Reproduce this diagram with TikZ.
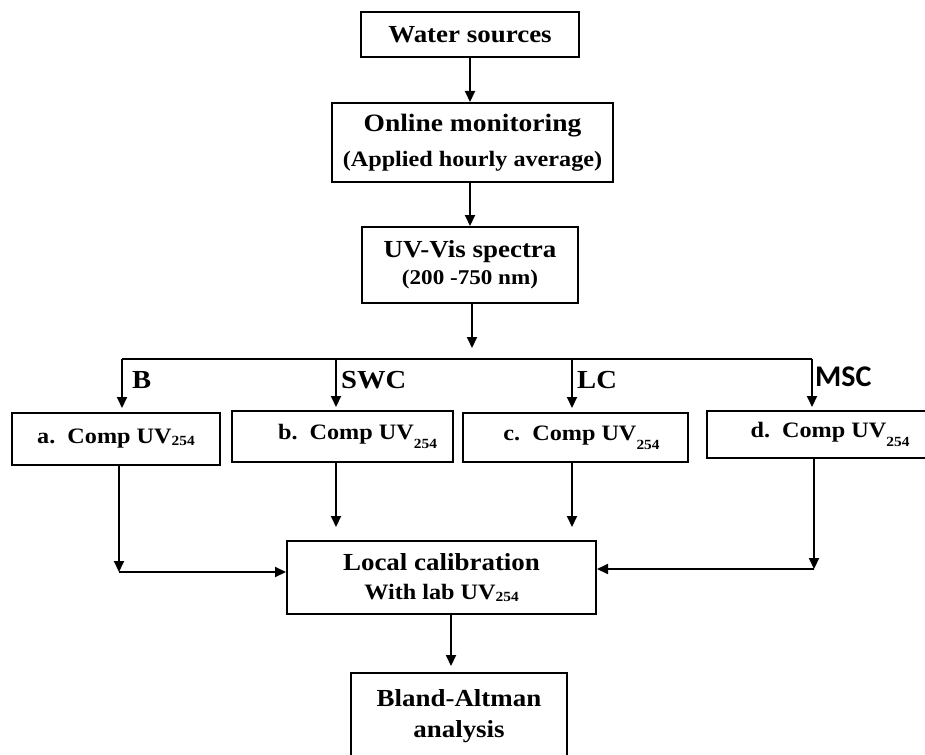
\documentclass[tikz,border=0pt]{standalone}
\usepackage{fontspec}
\setmainfont{Liberation Serif}[FakeStretch=1.1]
\newfontfamily\mscfont{Carlito}
\usetikzlibrary{arrows.meta}
\newcommand\lowsub[2]{\raisebox{-#1}{\fontsize{14}{14}\selectfont #2}}
\newcommand\fs[2]{\fontsize{#1}{#2}\selectfont}
\begin{document}
\begin{tikzpicture}[x=1pt,y=-1pt,
  box/.style={draw, line width=2pt, inner sep=0pt, align=center},
  conn/.style={line width=2pt},
  arr/.style={line width=2pt, -{Triangle[length=11pt,width=10pt]}},
  lbl/.style={anchor=base west, inner sep=0pt, font=\bfseries\fs{26}{26}}]
\useasboundingbox (0,0) rectangle (925,754);

% boxes
\node[box, font=\bfseries\fs{24.5}{28}, minimum width=218pt, minimum height=45pt] (water) at (470,34.5) {Water sources};
\node[box, font=\bfseries\fs{25}{35}, minimum width=281pt, minimum height=79pt] (online) at (472.5,142.5)
  {Online monitoring\\\fs{22}{35}(Applied hourly average)};
\node[box, font=\bfseries\fs{24.5}{27}, minimum width=216pt, minimum height=76pt] (uv) at (470,265)
  {UV-Vis spectra\\\fs{21}{27}(200 -750 nm)};

\node[box, font=\bfseries\fs{22}{26}, minimum width=208pt, minimum height=52pt] (a) at (116,439)
  {a.~~Comp UV\lowsub{2pt}{254}};
\node[box, font=\bfseries\fs{22}{26}, minimum width=221pt, minimum height=51pt] (b) at (342.5,436.5)
  {\hspace*{30pt}b.~~Comp UV\lowsub{9pt}{254}};
\node[box, font=\bfseries\fs{22}{26}, minimum width=225pt, minimum height=49pt] (c) at (575.5,437.5)
  {\hspace*{12pt}c.~~Comp UV\lowsub{9pt}{254}};
\node[box, font=\bfseries\fs{22}{26}, minimum width=220pt, minimum height=47pt] (d) at (817,434.5)
  {\hspace*{26pt}d.~~Comp UV\lowsub{9pt}{254}};

\node[box, font=\bfseries\fs{24.5}{29}, minimum width=309pt, minimum height=73pt] (local) at (441.5,577.5)
  {Local calibration\\\fs{22}{29}With lab UV\lowsub{2pt}{254}};
\node[box, font=\bfseries\fs{24.5}{31}, minimum width=216pt, minimum height=87pt] (bland) at (459,716.5)
  {Bland-Altman\\analysis};

% branch labels
\node[lbl] (lB) at (132,388) {B};
\node[lbl] (lSWC) at (341,388) {SWC};
\node[lbl] (lLC) at (577,388) {LC};
\node[lbl, font=\mscfont\bfseries\fs{30}{30}] (lMSC) at (815,386) {MSC};

% coordinates
\coordinate (tip) at (472,348);
\coordinate (h1) at (122,359);
\coordinate (h2) at (336,359);
\coordinate (h3) at (572,359);
\coordinate (h4) at (812,359);
\coordinate (ca) at (119,572);
\coordinate (cd) at (814,569);
\coordinate (lbx) at (451,640);

% connectors
\draw[arr] (water.south) -- (water.south |- online.north);
\draw[arr] (uv.north |- online.south) -- (uv.north);
\draw[arr] (uv.south -| tip) -- (tip);
\draw[conn] (h1) -- (h4);
\draw[arr, shorten >=4pt] (h1) -- (h1 |- a.north);
\draw[arr, shorten >=3pt] (h2) -- (h2 |- b.north);
\draw[arr, shorten >=4pt] (h3) -- (h3 |- c.north);
\draw[arr, shorten >=3pt] (h4) -- (h4 |- d.north);

\draw[arr] (a.south -| ca) -- (ca);
\draw[arr] (ca) -- (ca -| local.west);
\draw[arr, shorten >=13pt] (b.south -| h2) -- (h2 |- local.north);
\draw[arr, shorten >=13pt] (c.south -| h3) -- (h3 |- local.north);
\draw[arr] (d.south -| cd) -- (cd);
\draw[arr] (cd) -- (cd -| local.east);
\draw[arr, shorten >=6pt] (local.south -| lbx) -- (bland.north -| lbx);
\end{tikzpicture}
\end{document}
